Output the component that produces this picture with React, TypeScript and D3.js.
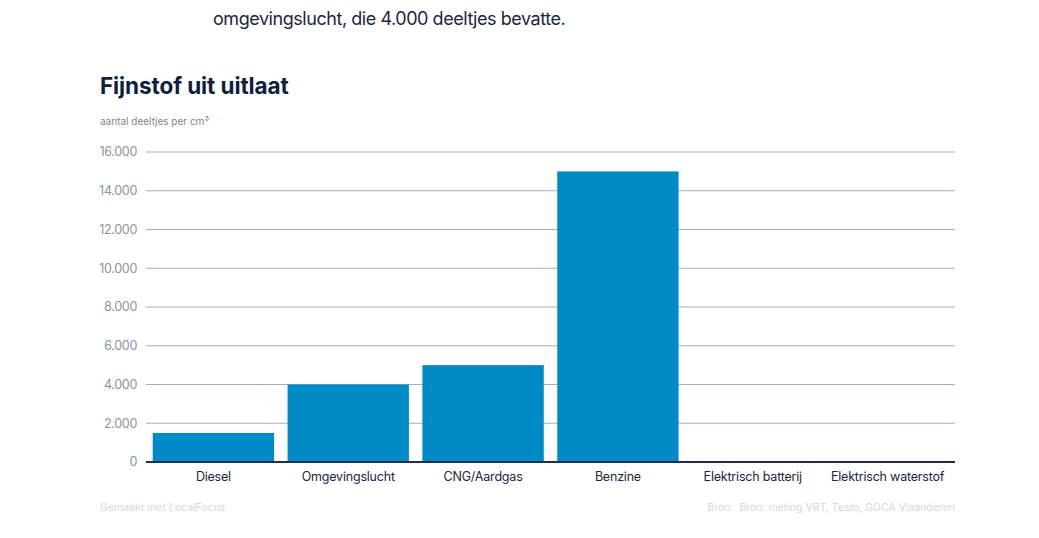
import * as d3 from "d3";

const categories = ["Diesel", "Omgevingslucht", "CNG/Aardgas", "Benzine", "Elektrisch batterij", "Elektrisch waterstof"];
const values = [1500, 4000, 5000, 15000, 0, 0];
const yTicks = [0, 2000, 4000, 6000, 8000, 10000, 12000, 14000, 16000];

const W = 1039;
const H = 538;
const left = 146;
const right = 955;
const top = 152;
const bottom = 462;

const fmt = (v: number) => d3.format(",")(v).replace(/,/g, ".");

export default function App() {
  const x = d3.scaleBand<string>().domain(categories).range([left, right]).paddingInner(0.1).paddingOuter(0.05);
  const y = d3.scaleLinear().domain([0, 16000]).range([bottom, top]);
  const font = "Inter, 'Noto Sans', sans-serif";

  return (
    <svg width={W} height={H} style={{ position: "absolute", left: 0, top: 0, fontFamily: font }}>
      <text x={213} y={25} fontSize={18} fill="#1b2642" letterSpacing={-0.45}>
        omgevingslucht, die 4.000 deeltjes bevatte.
      </text>
      <text x={100} y={94} fontSize={22.5} fontWeight={700} fill="#0e1f3d" letterSpacing={-0.1}>
        Fijnstof uit uitlaat
      </text>
      <text x={100} y={125} fontSize={10} fill="#7a8599">
        aantal deeltjes per cm³
      </text>
      {yTicks.map((t) => (
        <g key={t}>
          {t > 0 && <line x1={left} x2={right} y1={y(t)} y2={y(t)} stroke="#a3adbf" strokeWidth={1} />}
          <text x={137} y={y(t)} dy="0.35em" textAnchor="end" fontSize={12.5} fill="#8a93a6" letterSpacing={-0.3}>
            {fmt(t)}
          </text>
        </g>
      ))}
      {categories.map((c, i) => (
        <g key={c}>
          {values[i] > 0 && (
            <rect x={x(c)} y={y(values[i])} width={x.bandwidth()} height={bottom - y(values[i])} fill="#008bc7" />
          )}
          <text x={(x(c) ?? 0) + x.bandwidth() / 2} y={481} textAnchor="middle" fontSize={12.5} fill="#1b2642" letterSpacing={-0.2}>
            {c}
          </text>
        </g>
      ))}
      <line x1={left} x2={right} y1={bottom} y2={bottom} stroke="#1f2d4a" strokeWidth={2} />
      <text x={100} y={511} fontSize={10.5} fill="#d3d8e0">
        Gemaakt met LocalFocus
      </text>
      <text x={955} y={511} textAnchor="end" fontSize={10.5} fill="#d3d8e0" xmlSpace="preserve">
        Bron:  Bron: meting VRT, Testo, GOCA Vlaanderen
      </text>
    </svg>
  );
}
